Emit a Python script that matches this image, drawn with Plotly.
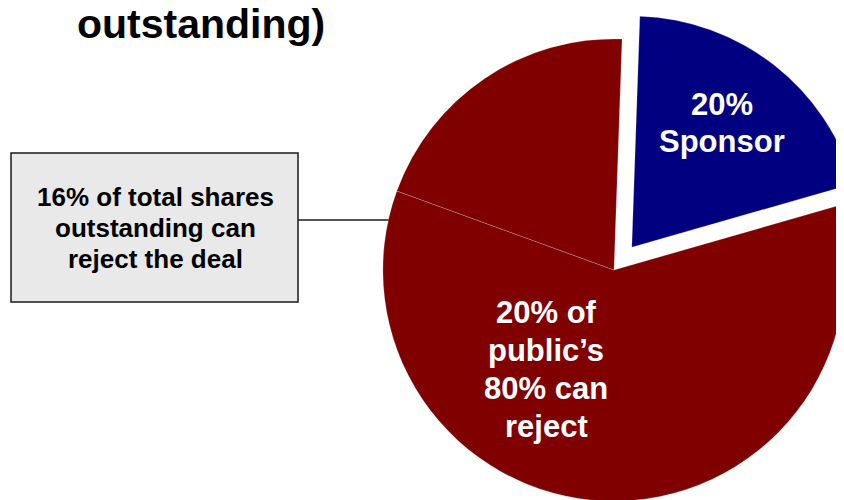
import plotly.graph_objects as go

# ---- data ----
slice_labels = ["Sponsor", "Public (cannot reject)", "Public (can reject)"]
slice_values = [20, 60, 20]
slice_colors = ["#000080", "#800000", "#800000"]
slice_pull = [0.125, 0, 0]

title_text = "outstanding)"
sponsor_lines = ["20%", "Sponsor"]
public_lines = ["20% of", "public\u2019s", "80% can", "reject"]
box_lines = ["16% of total shares", "outstanding can", "reject the deal"]

# ---- canvas ----
W, H = 880, 540
OFF = 8  # page body margin
FONT = "Liberation Sans, Arial, sans-serif"


def px(x):
    return (x - OFF) / W


def py(y):
    return 1 - (y - OFF) / H


fig = go.Figure()
fig.add_trace(go.Pie(
    labels=slice_labels,
    values=slice_values,
    marker=dict(colors=slice_colors, line=dict(color="rgba(255,255,255,0.3)", width=0.7)),
    pull=slice_pull,
    sort=False,
    direction="clockwise",
    rotation=2,
    textinfo="none",
    hoverinfo="label+percent",
    showlegend=False,
    domain=dict(x=[px(354), px(874)], y=[py(530), py(10)]),
))

annotations = []
annotations.append(dict(text="<b>%s</b>" % title_text, x=px(201), y=py(24),
                        font=dict(size=41, color="black", family=FONT)))
for i, t in enumerate(box_lines):
    annotations.append(dict(text="<b>%s</b>" % t, x=px(155), y=py(197 + 31 * i),
                            font=dict(size=26, color="black", family=FONT)))
for i, t in enumerate(sponsor_lines):
    annotations.append(dict(text="<b>%s</b>" % t, x=px(722), y=py(104 + 38 * i),
                            font=dict(size=31, color="white", family=FONT)))
for i, t in enumerate(public_lines):
    annotations.append(dict(text="<b>%s</b>" % t, x=px(546), y=py(312 + 38 * i),
                            font=dict(size=31, color="white", family=FONT)))
for a in annotations:
    a.update(xref="paper", yref="paper", showarrow=False, xanchor="center", yanchor="middle")

shapes = [
    dict(type="rect", xref="paper", yref="paper", x0=px(11), x1=px(298), y0=py(302), y1=py(153),
         fillcolor="#E9E9E9", line=dict(color="#1a1a1a", width=1.5), layer="below"),
    dict(type="line", xref="paper", yref="paper", x0=px(298), x1=px(389), y0=py(220), y1=py(220),
         line=dict(color="#1a1a1a", width=1.5), layer="below"),
]

fig.update_layout(
    width=W, height=H,
    margin=dict(l=0, r=0, t=0, b=0),
    paper_bgcolor="white",
    plot_bgcolor="white",
    annotations=annotations,
    shapes=shapes,
    font=dict(family=FONT),
)

fig.write_html("out.html")
